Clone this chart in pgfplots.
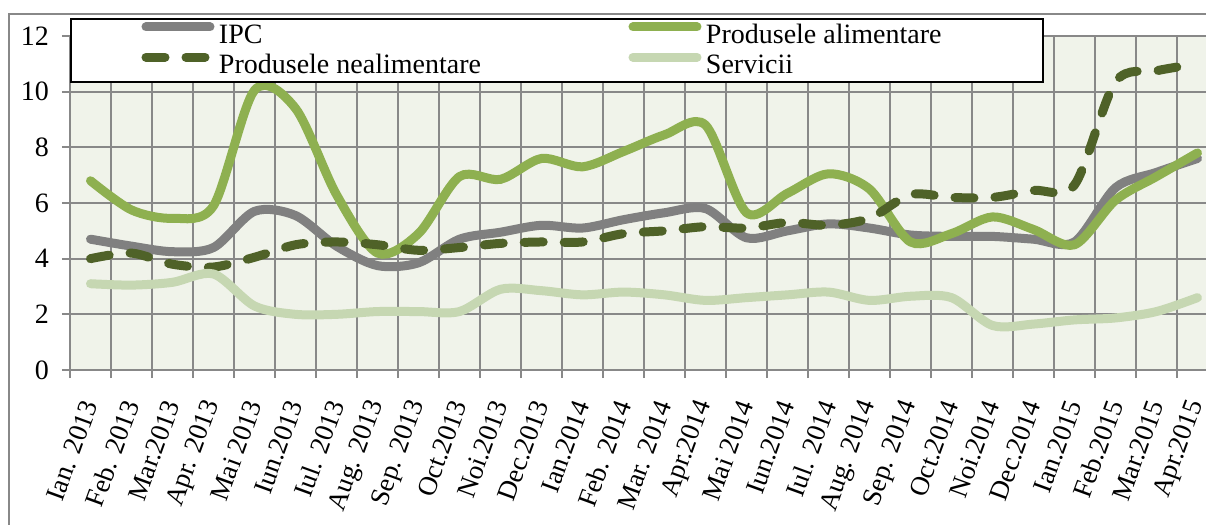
\documentclass[border=0pt]{standalone}
\usepackage{fontspec}
\setmainfont{Liberation Serif}
\usepackage{pgfplots}
\pgfplotsset{compat=1.18}
\definecolor{ipc}{RGB}{128,128,128}
\definecolor{alim}{RGB}{142,176,80}
\definecolor{nealim}{RGB}{79,98,40}
\definecolor{serv}{RGB}{198,215,178}
\definecolor{bgc}{RGB}{240,243,234}
\definecolor{gridc}{RGB}{136,136,136}
\begin{document}
\begin{tikzpicture}[x=1pt,y=1pt]
\useasboundingbox (0,0) rectangle (603,262.5);
\draw[gridc, line width=1pt] (4.5,-20) rectangle (640,255.5);
\begin{axis}[
  at={(35pt,77.5pt)}, anchor=south west,
  scale only axis, width=574pt, height=167pt,
  xmin=-0.5, xmax=27.5, ymin=0, ymax=12,
  axis background/.style={fill=bgc},
  axis line style={gridc, line width=1pt},
  xtick={0,...,27},
  xticklabels={Ian. 2013, Feb. 2013, Mar.2013, Apr. 2013, Mai 2013, Iun.2013, Iul. 2013, Aug. 2013, Sep. 2013, Oct.2013, Noi.2013, Dec.2013, Ian.2014, Feb. 2014, Mar. 2014, Apr.2014, Mai 2014, Iun.2014, Iul. 2014, Aug. 2014, Sep. 2014, Oct.2014, Noi.2014, Dec.2014, Ian.2015, Feb.2015, Mar.2015, Apr.2015},
  minor xtick={-0.5,0.5,...,27.5},
  xminorgrids=true, xmajorgrids=false,
  ytick={0,2,...,12}, ymajorgrids=true,
  grid style={gridc, line width=1pt},
  minor grid style={gridc, line width=1pt},
  tick align=outside, xtick pos=bottom, ytick pos=left,
  major tick length=4pt, minor tick length=4pt,
  tick style={gridc, line width=1pt},
  major x tick style={draw=none},
  ticklabel style={font=\fontsize{14}{16}\selectfont},
  /pgf/number format/assume math mode=true,
  xticklabel style={yshift=-8.5pt, xshift=1pt, rotate=70, anchor=east, font=\fontsize{13.5}{16}\selectfont},
  yticklabel style={xshift=-3pt},
  legend columns=2,
  legend cell align=left,
  legend style={at={(0,1)}, anchor=north west, yshift=8.75pt, draw=black, line width=1pt, fill=white,
    inner xsep=33pt, inner ysep=1.5pt, font=\fontsize{14}{16}\selectfont, row sep=2pt,
    nodes={inner sep=0pt, text height=10.5pt, text depth=2.5pt},
    /tikz/every odd column/.append style={column sep=0pt}},
  legend image code/.code={\path (0pt,0pt) (36.5pt,0pt); \draw[#1, line width=4.5pt] (2.25pt,4.35pt) -- (34.25pt,4.35pt);},
]
\addplot[ipc, line width=4.5pt, line cap=round, smooth, mark=none] coordinates {
(0,4.7) (1,4.45) (2,4.25) (3,4.4) (4,5.7) (5,5.55) (6,4.45) (7,3.75) (8,3.85) (9,4.7) (10,4.95) (11,5.2) (12,5.1) (13,5.4) (14,5.65) (15,5.8) (16,4.75) (17,5.0) (18,5.25) (19,5.1) (20,4.85) (21,4.8) (22,4.8) (23,4.7) (24,4.6) (25,6.55) (26,7.1) (27,7.6)};
\addlegendentry{\makebox[202.5pt][l]{IPC}}
\addplot[alim, line width=4.5pt, line cap=round, smooth, mark=none] coordinates {
(0,6.8) (1,5.75) (2,5.45) (3,5.9) (4,10.05) (5,9.4) (6,6.3) (7,4.2) (8,4.9) (9,6.95) (10,6.85) (11,7.6) (12,7.3) (13,7.85) (14,8.45) (15,8.8) (16,5.65) (17,6.35) (18,7.05) (19,6.5) (20,4.6) (21,4.9) (22,5.5) (23,5.05) (24,4.5) (25,6.1) (26,6.95) (27,7.8)};
\addlegendentry{\makebox[135.5pt][l]{Produsele alimentare}}
\addplot[nealim, line width=4.5pt, line cap=round, smooth, mark=none, dash pattern=on 9.5pt off 10.5pt] coordinates {
(0,4.0) (1,4.2) (2,3.8) (3,3.7) (4,4.05) (5,4.5) (6,4.6) (7,4.5) (8,4.3) (9,4.4) (10,4.55) (11,4.6) (12,4.6) (13,4.9) (14,5.0) (15,5.15) (16,5.1) (17,5.3) (18,5.2) (19,5.45) (20,6.3) (21,6.2) (22,6.2) (23,6.45) (24,6.65) (25,10.35) (26,10.75) (27,11.0)};
\addlegendentry{Produsele nealimentare}
\addplot[serv, line width=4.5pt, line cap=round, smooth, mark=none] coordinates {
(0,3.1) (1,3.05) (2,3.15) (3,3.45) (4,2.3) (5,2.0) (6,2.0) (7,2.1) (8,2.1) (9,2.1) (10,2.9) (11,2.85) (12,2.7) (13,2.8) (14,2.7) (15,2.5) (16,2.6) (17,2.7) (18,2.8) (19,2.5) (20,2.65) (21,2.6) (22,1.6) (23,1.65) (24,1.8) (25,1.87) (26,2.1) (27,2.6)};
\addlegendentry{Servicii}
\end{axis}
\end{tikzpicture}
\end{document}
